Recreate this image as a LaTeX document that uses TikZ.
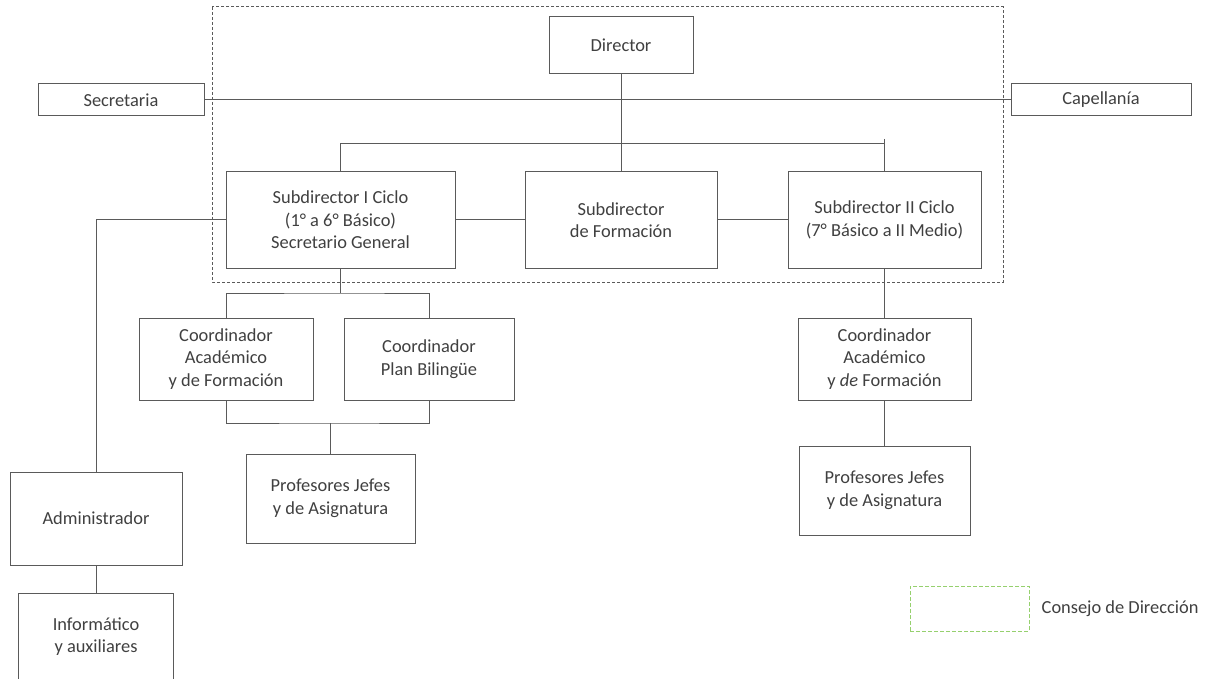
\documentclass[tikz,border=0pt]{standalone}
\usepackage{fontspec}
\setmainfont{Carlito}
\usepackage{xcolor}
\usetikzlibrary{positioning}
\definecolor{linegray}{RGB}{90,90,90}
\definecolor{textgray}{RGB}{64,64,64}
\definecolor{legendgreen}{RGB}{150,208,110}
\tikzset{box/.style={draw=linegray, line width=1pt, text=textgray, align=center,
   inner sep=0pt, font=\fontsize{18.4}{22.5}\selectfont},
 link/.style={draw=linegray, line width=1pt},
 council/.style={draw=linegray, line width=1pt, dash pattern=on 3pt off 2pt},
 legendbox/.style={draw=legendgreen, line width=1pt, dash pattern=on 4pt off 2pt},
 }

\begin{document}
\begin{tikzpicture}[x=1pt,y=-1pt]
        \fill[white] (0,0) rectangle (1218,679);
        \useasboundingbox (0,0) rectangle (1218,679);
        \draw[council] (212,7) rectangle (1003,282);
        \node[box, minimum width=144pt, minimum height=57pt] (director) at (621,45.5) {Director};
        \node[box, minimum width=166pt, minimum height=32pt] (secretaria) at (121,100) {Secretaria};
        \node[box, minimum width=180pt, minimum height=32pt] (capellania) at (1101,100) {Capellanía};
        \node[box, minimum width=229pt, minimum height=96pt] (subI) at (340.5,220) {Subdirector I Ciclo\\(1° a 6° Básico)\\Secretario General};
        \node[box, minimum width=192pt, minimum height=96pt] (subF) at (621,220) {Subdirector\\de Formación};
        \node[box, minimum width=193pt, minimum height=96pt] (subII) at (884.5,220) {Subdirector II Ciclo\\(7° Básico a II Medio)};
        \node[box, minimum width=174pt, minimum height=82pt] (coordA) at (226,359) {Coordinador\\Académico\\y de Formación};
        \node[box, minimum width=170pt, minimum height=82pt] (coordB) at (429,359) {Coordinador\\Plan Bilingüe};
        \node[box, minimum width=169pt, minimum height=89pt] (profA) at (330.5,498.5) {Profesores Jefes\\y de Asignatura};
        \node[box, minimum width=173pt, minimum height=82pt] (coordC) at (884.5,359) {Coordinador\\Académico\\y \textit{de} Formación};
        \node[box, minimum width=171pt, minimum height=89pt] (profB) at (884.5,490.5) {Profesores Jefes\\y de Asignatura};
        \node[box, minimum width=172pt, minimum height=93pt] (admin) at (96,518.5) {Administrador};
        \node[box, minimum width=155pt, minimum height=87pt] (informatico) at (96,636.5) {Informático\\y auxiliares};
        \node[legendbox, minimum width=119pt, minimum height=45pt] (legend) at (969.5,608.5) {};
        \node[text=textgray, font=\fontsize{18.4}{22.5}\selectfont, inner sep=0pt, right=12pt of legend] (legendtext) {Consejo de Dirección};
        \coordinate (bar) at (884.5,144);
        \coordinate (stub) at (884.5,139);
        \coordinate (split) at (340.5,293);
        \coordinate (merge) at (330.5,423);
        \draw[link] (secretaria.east) -- (capellania.west);
        \draw[link] (director.south) -- (subF.north);
        \draw[link] (subI.north) |- (bar);
        \draw[link] (stub) -- (subII.north);
        \draw[link] (subI.east) -- (subF.west);
        \draw[link] (subF.east) -- (subII.west);
        \draw[link] (subI.west) -| (admin.north);
        \draw[link] (admin.south) -- (informatico.north);
        \draw[link] (subI.south) -- (split);
        \draw[link] (coordA.north) |- (split) -| (coordB.north);
        \draw[link] (coordA.south) |- (merge) -| (coordB.south);
        \draw[link] (merge) -- (profA.north);
        \draw[link] (subII.south) -- (coordC.north);
        \draw[link] (coordC.south) -- (profB.north);
    \end{tikzpicture}
\end{document}
